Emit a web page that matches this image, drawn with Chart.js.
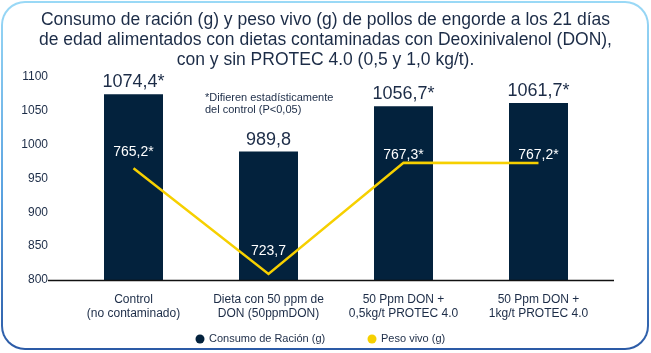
<!DOCTYPE html>
<html>
<head>
<meta charset="utf-8">
<script src="https://cdn.jsdelivr.net/npm/chart.js@4.4.1/dist/chart.umd.min.js"></script>
<style>
  html, body { margin: 0; padding: 0; background: #fff; }
  #frame {
    position: absolute; left: 1px; top: 1px; width: 648px; height: 349px;
    border-radius: 24px;
    background: linear-gradient(180deg, #9ad9f6 0%, #5aa2e0 55%, #2b5aa6 100%);
  }
  #inner { position: absolute; left: 2px; top: 2px; right: 2px; bottom: 2px; border-radius: 22px; background: #fff; }
  #c { position: absolute; left: 0; top: 0; }
</style>
</head>
<body>
<div id="frame"><div id="inner"></div></div>
<canvas id="c" width="651" height="353"></canvas>
<script>
const categories = [
  ['Control', '(no contaminado)'],
  ['Dieta con 50 ppm de', 'DON (50ppmDON)'],
  ['50 Ppm DON +', '0,5kg/t PROTEC 4.0'],
  ['50 Ppm DON +', '1kg/t PROTEC 4.0']
];
const consumoRacion = [1074.4, 989.8, 1056.7, 1061.7];
const pesoVivo = [765.2, 723.7, 767.3, 767.2];
const consumoSig = ['*', '', '*', '*'];
const pesoSig = ['*', '', '*', '*'];
const titleLines = [
  'Consumo de ración (g) y peso vivo (g) de pollos de engorde a los 21 días',
  'de edad alimentados con dietas contaminadas con Deoxinivalenol (DON),',
  'con y sin PROTEC 4.0 (0,5 y 1,0 kg/t).'
];
const noteLines = ['*Difieren estadísticamente', 'del control (P<0,05)'];

const NAVY = '#03223d';
const TEXT = '#1c2c47';
const YELLOW = '#f6d000';
const FONT = '"Liberation Sans", Arial, sans-serif';

const fmt = v => v.toFixed(1).replace('.', ',');

// value labels, note, baseline and legend
const extras = {
  id: 'extras',
  afterDatasetsDraw(chart) {
    const ctx = chart.ctx;
    const area = chart.chartArea;
    const bars = chart.getDatasetMeta(0).data;
    const pts = chart.getDatasetMeta(1).data;
    const lift = [12, 19, 4, 4];
    ctx.save();
    // baseline
    ctx.strokeStyle = '#111';
    ctx.lineWidth = 1.5;
    ctx.beginPath();
    ctx.moveTo(area.left - 18, area.bottom + 0.5);
    ctx.lineTo(area.right + 8, area.bottom + 0.5);
    ctx.stroke();

    ctx.textAlign = 'center';
    ctx.textBaseline = 'alphabetic';
    ctx.font = '18px ' + FONT;
    ctx.fillStyle = TEXT;
    bars.forEach((b, i) => ctx.fillText(fmt(consumoRacion[i]) + consumoSig[i], b.x, b.y - 7));

    ctx.font = '14px ' + FONT;
    ctx.fillStyle = '#fff';
    pts.forEach((p, i) => ctx.fillText(fmt(pesoVivo[i]) + pesoSig[i], p.x, p.y - lift[i]));

    ctx.textAlign = 'left';
    ctx.font = '11px ' + FONT;
    ctx.fillStyle = TEXT;
    noteLines.forEach((t, i) => ctx.fillText(t, 205, 101 + i * 12));

    // legend
    const items = chart.data.datasets.map(d => ({ text: d.label, color: d.legendColor }));
    const xs = [200, 372];
    ctx.textBaseline = 'middle';
    items.forEach((it, i) => {
      ctx.fillStyle = it.color;
      ctx.beginPath();
      ctx.arc(xs[i], 339, 4.5, 0, Math.PI * 2);
      ctx.fill();
      ctx.fillStyle = TEXT;
      ctx.fillText(it.text, xs[i] + 9, 339);
    });
    ctx.restore();
  }
};

new Chart(document.getElementById('c'), {
  data: {
    labels: categories,
    datasets: [{
      type: 'bar',
      label: 'Consumo de Ración (g)',
      data: consumoRacion,
      backgroundColor: NAVY,
      legendColor: NAVY,
      borderWidth: 0,
      barPercentage: 0.437,
      categoryPercentage: 1,
      yAxisID: 'y',
      order: 2
    }, {
      type: 'line',
      label: 'Peso vivo (g)',
      data: pesoVivo,
      borderColor: YELLOW,
      backgroundColor: YELLOW,
      legendColor: YELLOW,
      borderWidth: 2.5,
      pointRadius: 0,
      tension: 0,
      yAxisID: 'y2',
      order: 1
    }]
  },
  options: {
    responsive: false,
    animation: false,
    layout: { padding: 0 },
    plugins: {
      legend: { display: false },
      tooltip: { enabled: false },
      title: {
        display: true,
        text: titleLines,
        color: TEXT,
        font: { size: 17.5, family: FONT, weight: 'normal', lineHeight: 1.15 },
        padding: { top: 10, bottom: 6.6 }
      }
    },
    scales: {
      x: {
        grid: { display: false, drawTicks: false },
        border: { display: false },
        ticks: { color: TEXT, font: { size: 12, family: FONT }, padding: 12, maxRotation: 0, autoSkip: false },
        afterFit: s => { s.height = 73; }
      },
      y: {
        min: 800,
        max: 1100,
        grid: { display: false, drawTicks: false },
        border: { display: false },
        ticks: { stepSize: 50, color: TEXT, font: { size: 12, family: FONT }, padding: 18, callback: v => String(v) },
        afterFit: s => { s.width = 66; }
      },
      y2: {
        position: 'right',
        min: 721.3,
        max: 801,
        grid: { display: false, drawTicks: false },
        border: { display: false },
        ticks: { display: false },
        afterFit: s => { s.width = 45; }
      }
    }
  },
  plugins: [extras]
});
</script>
</body>
</html>
